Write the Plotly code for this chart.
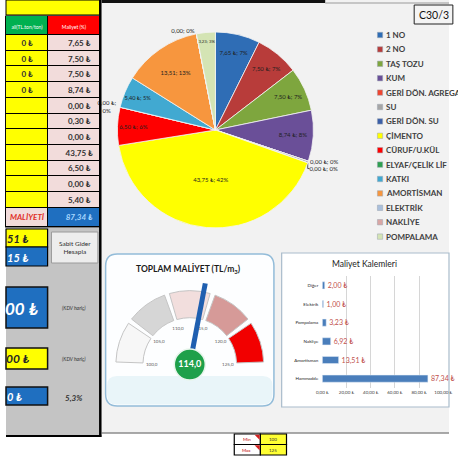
import plotly.graph_objects as go

W = H = 458

# ---------------- data ----------------
components = ["1 NO", "2 NO", "TAŞ TOZU", "KUM", "GERİ DÖN. AGREGA", "SU", "GERİ DÖN. SU",
              "ÇİMENTO", "CÜRUF/U.KÜL", "ELYAF/ÇELİK LİF", "KATKI", "AMORTİSMAN",
              "ELEKTRİK", "NAKLİYE", "POMPALAMA"]
component_costs = [7.65, 7.50, 7.50, 8.74, 0.00, 0.30, 0.00, 43.75, 6.50, 0.00, 5.40, 13.51,
                   0.00, 0.00, 3.23]
component_units = ["₺"] * 11 + [""] * 4
component_label_shown = [True] * 13 + [False, True]
component_label_wrapped = [False] * 9 + [True] + [False] * 5
component_colors = ["#2f6db5", "#b83c3a", "#7ea63e", "#6a4f98", "#f0452f", "#a6a6a6", "#3b5fa8",
                    "#ffff00", "#ff0000", "#2ea050", "#41a9d1", "#f7963e", "#a9bfdc", "#d9a6a4",
                    "#d4e4b4"]

table_header = ["ali(TL.ton/ton)", "Maliyet (%)"]
table_first_col = ["0 ₺", "0 ₺", "0 ₺", "0 ₺", "", "", "", "", "", "", ""]
total_label = "MALİYETİ"

cost_items = ["Hammadde", "Amortisman", "Nakliye", "Pompalama", "Elektrik", "Diğer"]
cost_values = [87.34, 13.51, 6.92, 3.23, 1.00, 2.00]

gauge_min, gauge_max = 100, 125
gauge_value = 114.0
gauge_edges = [100, 105, 110, 115, 120, 125]
gauge_colors = ["#f7f7f7", "#d6d6d6", "#f2dedd", "#d69a98", "#f20000"]

side_values = ["51 ₺", "15 ₺", "00 ₺", "00 ₺", "0 ₺"]
side_notes = ["(KDV hariç)", "(KDV hariç)", "5,3%"]
model_code = "C30/3"

FONT = "Lato, 'Open Sans', sans-serif"


def X(p):
    return p / W


def Y(p):
    return 1 - p / H


def fmt(v, d=2):
    return f"{v:.{d}f}".replace(".", ",")


fig = go.Figure()

# ---------------- pie ----------------
total = sum(component_costs)
pie_text = []
for v, u, s, wr in zip(component_costs, component_units, component_label_shown, component_label_wrapped):
    pct = round(v / total * 100)
    sep = "<br>" if wr else " "
    t = f"{fmt(v)} {u};{sep}{pct}%" if u else f"{fmt(v)};{sep}{pct}%"
    pie_text.append(t if s else "")
fig.add_trace(go.Pie(
    labels=components, values=component_costs, text=pie_text, textinfo="text",
    textposition=["inside" if v > 0 else "outside" for v in component_costs],
    insidetextorientation="horizontal", sort=False, direction="clockwise", rotation=0,
    marker=dict(colors=component_colors, line=dict(color="#f4f4f4", width=0.8)),
    textfont=dict(size=6, color="#1f1f1f", family=FONT),
    domain=dict(x=[X(110), X(323)], y=[Y(228), Y(32)]), showlegend=False,
    hoverinfo="label+value"))

# ---------------- left cost table (heatmap cells) ----------------
# colour codes: 0 yellow, 1 pink, 2 green, 3 red, 4 blue
cell_scale = [[0, "#ffff00"], [0.25, "#f2dcdb"], [0.5, "#00b050"], [0.75, "#ff0000"], [1, "#1f6fc0"]]
PAD = "\u00a0" * 5
z_cells = [[2, 3]]
t_cells = [[f"<span style='color:#ffffff;font-size:5px'>{h}</span>" for h in table_header]]
for i, v in enumerate(component_costs[:11]):
    z_cells.append([0, 1])
    t_cells.append([f"<b>{table_first_col[i]}</b>", f"{PAD}<b>{fmt(v)} ₺</b>"])
z_cells.append([1, 4])
t_cells.append([f"<span style='color:#e0302a'><b><i>{total_label}</i></b></span>",
                f"{PAD}<span style='color:#a8d8ff'><b><i>{fmt(sum(component_costs[:11]))} ₺</i></b></span>"])
col_edges = [0, 43, 97]
row_edges = [16, 35] + [35 + 15.7 * (k + 1) for k in range(11)] + [227]
fig.add_trace(go.Heatmap(
    z=z_cells, x=col_edges, y=row_edges, text=t_cells, texttemplate="%{text}",
    textfont=dict(size=8, color="#333333", family=FONT), colorscale=cell_scale, zmin=0, zmax=4,
    showscale=False, xgap=1, ygap=1, hoverinfo="skip", xaxis="x2", yaxis="y2"))

# ---------------- bar chart ----------------
fig.add_trace(go.Bar(
    x=cost_values, y=cost_items, orientation="h", marker_color="#4a7ebb", width=0.38,
    text=[f"{fmt(v)} ₺" for v in cost_values], textposition="outside", constraintext="none",
    textfont=dict(size=7, color="#c0504d", family=FONT), cliponaxis=False,
    xaxis="x", yaxis="y", showlegend=False))

# ---------------- gauge ----------------
def th(v):
    return (v - gauge_min) / (gauge_max - gauge_min) * 180


fig.add_trace(go.Barpolar(
    r=[0.37] * 5, base=[0.64] * 5,
    theta=[th((a + b) / 2) for a, b in zip(gauge_edges[:-1], gauge_edges[1:])],
    width=[th(b) - th(a) - 4 for a, b in zip(gauge_edges[:-1], gauge_edges[1:])],
    marker=dict(color=gauge_colors, line=dict(color="#c4c4c4", width=1)),
    subplot="polar", showlegend=False))
fig.add_trace(go.Scatterpolar(
    r=[0.52] * len(gauge_edges), theta=[th(e) for e in gauge_edges],
    text=[fmt(e, 1) for e in gauge_edges], mode="text",
    textfont=dict(size=4.5, color="#595959", family=FONT), subplot="polar", showlegend=False))
fig.add_trace(go.Scatterpolar(
    r=[0, 1.13], theta=[th(gauge_value)] * 2, mode="lines",
    line=dict(color="#1f5fb0", width=5), subplot="polar", showlegend=False))
fig.add_trace(go.Scatterpolar(
    r=[0], theta=[0], mode="markers+text", text=[f"<b>{fmt(gauge_value, 1)}</b>"],
    textposition="middle center",
    marker=dict(size=31, color="#1ea04a", line=dict(color="#e8f5ec", width=1.5)),
    textfont=dict(size=9, color="white", family=FONT), subplot="polar", showlegend=False))

# ---------------- shapes ----------------
shapes = []


def rect(x0, y0, x1, y1, fill, line="rgba(0,0,0,0)", lw=0, layer="below"):
    shapes.append(dict(type="rect", xref="paper", yref="paper", x0=X(x0), x1=X(x1),
                       y0=Y(y1), y1=Y(y0), fillcolor=fill,
                       line=dict(color=line, width=lw), layer=layer))


def rrect_path(x0, y0, x1, y1, r):
    P = lambda x, y: f"{X(x):.5f},{Y(y):.5f}"
    return (f"M{P(x0 + r, y0)} L{P(x1 - r, y0)} Q{P(x1, y0)} {P(x1, y0 + r)} "
            f"L{P(x1, y1 - r)} Q{P(x1, y1)} {P(x1 - r, y1)} L{P(x0 + r, y1)} "
            f"Q{P(x0, y1)} {P(x0, y1 - r)} L{P(x0, y0 + r)} Q{P(x0, y0)} {P(x0 + r, y0)} Z")


def line(x0, y0, x1, y1, color, w, layer="above"):
    shapes.append(dict(type="line", xref="paper", yref="paper", x0=X(x0), x1=X(x1),
                       y0=Y(y0), y1=Y(y1), line=dict(color=color, width=w), layer=layer))


# right area background
rect(99, 0, 458, 433, "#f2f2f2")
line(99, 433, 458, 433, "#8c8c8c", 1.5, "below")
line(99, 1.5, 330, 1.5, "#111111", 3)
line(330, 3, 458, 3, "#9a9a9a", 1)
# code box
rect(422, 5, 462, 24, "#f4f4f4", "#222222", 1)
# left panel
rect(0, 0, 97, 15, "#ffff00", "#000000", 1)
rect(-1, 15.5, 97.5, 227.5, "#000000")
rect(0, 228, 97, 435, "#c4c4c4")
rect(0, 229, 43, 247, "#ffff00", "#000000", 1.2)
rect(0, 247, 43, 266, "#1f6fc0", "#000000", 1.2)
rect(47, 232, 95, 263, "#ededed", "#9a9a9a", 1)
rect(0, 287, 43, 328, "#1f6fc0", "#111111", 1.5)
rect(0, 348, 43, 369, "#ffff00", "#111111", 1.5)
rect(0, 387, 43, 405, "#1f6fc0", "#111111", 1.5)
line(97.5, 0, 97.5, 437, "#000000", 2.5)
line(0, 436, 98.5, 436, "#000000", 2)
# gauge panel
shapes.append(dict(type="path", xref="paper", yref="paper", path=rrect_path(103, 254, 277, 406, 12),
                   fillcolor="#fdfeff", line=dict(color="#93bcd9", width=1.5), layer="below"))
shapes.append(dict(type="path", xref="paper", yref="paper", path=rrect_path(104.5, 376, 275.5, 404.5, 10),
                   fillcolor="#e9f5f9", line=dict(color="rgba(0,0,0,0)", width=0), layer="below"))
# bar panel
rect(285, 253, 458, 407, "#ffffff", "#a9bccb", 1.2)
# min / max table
rect(236, 434, 263, 444.5, "#ffffff", "#000000", 1.2, "above")
rect(263, 434, 290, 444.5, "#ffff33", "#000000", 1.2, "above")
rect(236, 444.5, 263, 455, "#ffffff", "#000000", 1.2, "above")
rect(263, 444.5, 290, 455, "#ffff33", "#000000", 1.2, "above")
for yy in (434, 444.5):
    shapes.append(dict(type="path", xref="paper", yref="paper",
                       path=f"M{X(257):.5f},{Y(yy + 0.8):.5f} L{X(262.3):.5f},{Y(yy + 0.8):.5f} L{X(262.3):.5f},{Y(yy + 6):.5f} Z",
                       fillcolor="#d42020", line=dict(width=0), layer="above"))
# legend squares
for i, c in enumerate(component_colors):
    yc = 35 + i * 14.4
    rect(384, yc - 2.7, 389.4, yc + 2.7, c, "#9aa4b0", 0.5, "above")

# ---------------- annotations ----------------
anns = []


def ann(text, x, y, size, color="#222222", xanchor="center", family=FONT):
    anns.append(dict(text=text, x=X(x), y=Y(y), xref="paper", yref="paper", showarrow=False,
                     xanchor=xanchor, yanchor="middle", font=dict(size=size, color=color, family=family)))


for i, name in enumerate(components):
    ann(f"<b>{name}</b>", 390.5, 35 + i * 14.4, 8, "#404040", "left")
ann(model_code, 425, 14.5, 10.5, "#111111", "left")
ann("<b>TOPLAM MALİYET (TL/m<sub>3</sub>)</b>", 189, 268, 8.5, "#1a1a1a")
ann("Maliyet Kalemleri", 371, 264, 8.5, "#222222")
ann(f"<b><i>{side_values[0]}</i></b>", -1, 238, 11, "#262626", "left")
ann(f"<b><i>{side_values[1]}</i></b>", -1, 257, 11, "#ffffff", "left")
ann(f"<b><i>{side_values[2]}</i></b>", -3, 308, 17, "#ffffff", "left")
ann(f"<b><i>{side_values[3]}</i></b>", -2, 358.5, 12, "#262626", "left")
ann(f"<b><i>{side_values[4]}</i></b>", -1, 396.5, 11, "#ffffff", "left")
ann("Sabit Gider<br>Hesapla", 71, 247.5, 6.5, "#303030")
ann(f"<i>{side_notes[0]}</i>", 70, 308, 5, "#333333")
ann(f"<i>{side_notes[1]}</i>", 70, 359, 5, "#333333")
ann(f"<b><i>{side_notes[2]}</i></b>", 70, 398, 8, "#333333")
ann("Min", 249, 439.5, 4.5, "#c00000")
ann("Max", 249, 450, 4.5, "#c00000")
ann(str(gauge_min), 276.5, 439.5, 4.5, "#333333")
ann(str(gauge_max), 276.5, 450, 4.5, "#333333")

fig.update_layout(
    width=W, height=H, margin=dict(l=0, r=0, t=0, b=0), paper_bgcolor="#ffffff",
    plot_bgcolor="rgba(0,0,0,0)", separators=",.", showlegend=False,
    font=dict(family=FONT),
    shapes=shapes, annotations=anns,
    xaxis=dict(domain=[X(327), X(452)], range=[0, 100], dtick=20, tickformat=".2f",
               ticksuffix=" ₺", tickfont=dict(size=4.5, color="#404040"), showgrid=True,
               gridcolor="#d6d6d6", zeroline=False, showline=False, ticks="", anchor="y",
               fixedrange=True, ticklabeloverflow="allow"),
    yaxis=dict(domain=[Y(388), Y(276)], tickfont=dict(size=4.5, color="#262626"),
               showgrid=False, ticks="", showline=False, anchor="x", fixedrange=True,
               ticklabelstandoff=3),
    xaxis2=dict(domain=[0, X(97)], range=[0, 97], visible=False, anchor="y2", fixedrange=True),
    yaxis2=dict(domain=[Y(227), Y(16)], range=[227, 16], visible=False, anchor="x2", fixedrange=True),
    polar=dict(domain=dict(x=[X(103), X(277)], y=[Y(366), Y(279)]), sector=[0, 180],
               bgcolor="rgba(0,0,0,0)", hole=0,
               radialaxis=dict(visible=False, range=[0, 1.15]),
               angularaxis=dict(visible=False, rotation=180, direction="clockwise")),
)

fig.write_html("out.html")
